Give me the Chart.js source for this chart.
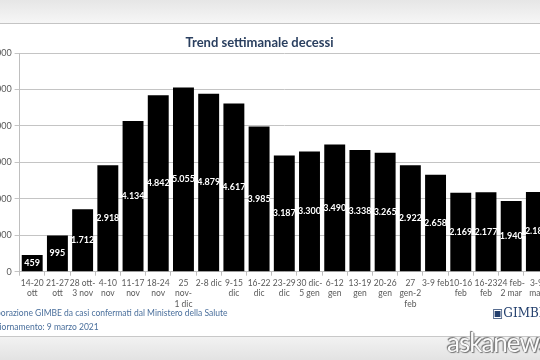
<!DOCTYPE html>
<html>
<head>
<meta charset="utf-8">
<script src="https://cdn.jsdelivr.net/npm/chart.js@4.4.0/dist/chart.umd.min.js"></script>
<style>
html, body { margin: 0; padding: 0; width: 540px; height: 360px; overflow: hidden; background: #fff; font-family: Lato, sans-serif; }
#top { position: absolute; left: 0; top: 0; width: 540px; height: 23px; background: linear-gradient(#e6e6e6, #f6f6f6); border-bottom: 1px solid #c4c4c4; }
#wrap { position: absolute; left: -30px; top: 24px; width: 590px; height: 290px; }
#src { position: absolute; left: -15px; top: 306px; font-size: 8.5px; color: #4a6f9c; line-height: 14px; white-space: nowrap; }
#bottom { position: absolute; left: 0; top: 336px; width: 540px; height: 24px; background: linear-gradient(#f2f2f2, #e2e2e2); border-top: 1px solid #c8c8c8; }
#logo { position: absolute; left: 492px; top: 306px; font-family: "DejaVu Serif", serif; font-size: 12px; color: #24406e; white-space: nowrap; }
#ask { position: absolute; left: 447px; top: 326px; font-size: 26px; color: #fafafa; letter-spacing: -1px; white-space: nowrap;
       text-shadow: 0 0 1px #555, 1px 1px 1px #777, -1px -1px 1px #777; }
</style>
</head>
<body>
<div id="top"></div>
<div id="wrap"><canvas id="chart"></canvas></div>
<div id="src">Elaborazione GIMBE da casi confermati dal Ministero della Salute<br>Aggiornamento: 9 marzo 2021</div>
<div id="bottom"></div>
<div id="logo">&#9635;GIMBE</div>
<div id="ask">askanews</div>
<script>
// ---------------------------------------------------------------------------
// Data
// ---------------------------------------------------------------------------
const weeks = [
    ['14-20', 'ott'], ['21-27', 'ott'], ['28 ott-', '3 nov'], ['4-10', 'nov'],
    ['11-17', 'nov'], ['18-24', 'nov'], ['25', 'nov-', '1 dic'], '2-8 dic',
    ['9-15', 'dic'], ['16-22', 'dic'], ['23-29', 'dic'], ['30 dic-', '5 gen'],
    ['6-12', 'gen'], ['13-19', 'gen'], ['20-26', 'gen'], ['27', 'gen-2', 'feb'],
    '3-9 feb', ['10-16', 'feb'], ['16-23', 'feb'], ['24 feb-', '2 mar'], ['3-9', 'mar']
];
const deaths = [459, 995, 1712, 2918, 4134, 4842, 5055, 4879, 4617, 3985, 3187,
    3300, 3490, 3338, 3265, 2922, 2658, 2169, 2177, 1940, 2187];
const yTicks = [0, 1000, 2000, 3000, 4000, 5000, 6000];

// ---------------------------------------------------------------------------
// Helpers
// ---------------------------------------------------------------------------
function fmt(v) {
    return String(v).replace(/\B(?=(\d{3})+(?!\d))/g, '.');
}

// white value labels in the middle of each bar
const barLabels = {
    id: 'barLabels',
    afterDatasetsDraw(chart) {
        const ctx = chart.ctx;
        const meta = chart.getDatasetMeta(0);
        ctx.save();
        ctx.font = 'bold 9px Lato';
        ctx.fillStyle = '#ffffff';
        ctx.textAlign = 'center';
        ctx.textBaseline = 'middle';
        meta.data.forEach((bar, i) => {
            const p = bar.getProps(['x', 'y', 'base'], true);
            ctx.fillText(fmt(deaths[i]), p.x, (p.y + p.base) / 2);
        });
        ctx.restore();
    }
};

new Chart(document.getElementById('chart'), {
    type: 'bar',
    data: {
        labels: weeks,
        datasets: [{
            label: 'Decessi',
            data: deaths,
            backgroundColor: '#000000',
            borderWidth: 0,
            categoryPercentage: 1,
            barPercentage: 0.83,
        }]
    },
    options: {
        responsive: true,
        maintainAspectRatio: false,
        animation: false,
        layout: { padding: { left: 0, right: 11, top: 0, bottom: 0 } },
        plugins: {
            legend: { display: false },
            tooltip: { enabled: false },
            title: {
                display: true,
                text: 'Trend settimanale decessi',
                color: '#2a3f5f',
                font: { family: 'Lato', size: 13, weight: 'bold', lineHeight: 1.2 },
                padding: { top: 11, bottom: 2.4 },
            },
        },
        scales: {
            x: {
                grid: { drawOnChartArea: false, color: '#bfbfbf', tickLength: 4 },
                border: { color: '#bfbfbf' },
                ticks: {
                    autoSkip: false, maxRotation: 0, minRotation: 0, padding: 2,
                    color: '#5a5a5a', font: { family: 'Lato', size: 8.5, lineHeight: 1.25 },
                },
                afterFit: (s) => { s.height = 42.3; },
            },
            y: {
                min: 0, max: 6000,
                afterBuildTicks: (s) => { s.ticks = yTicks.map(v => ({ value: v })); },
                grid: { color: '#c4c4c4', tickLength: 5 },
                border: { color: '#bfbfbf' },
                ticks: {
                    padding: 3, color: '#5a5a5a',
                    font: { family: 'Lato', size: 9 },
                    callback: (v) => fmt(v),
                },
                afterFit: (s) => { s.width = 49.6; },
            },
        },
    },
    plugins: [barLabels],
});
</script>
</body>
</html>
